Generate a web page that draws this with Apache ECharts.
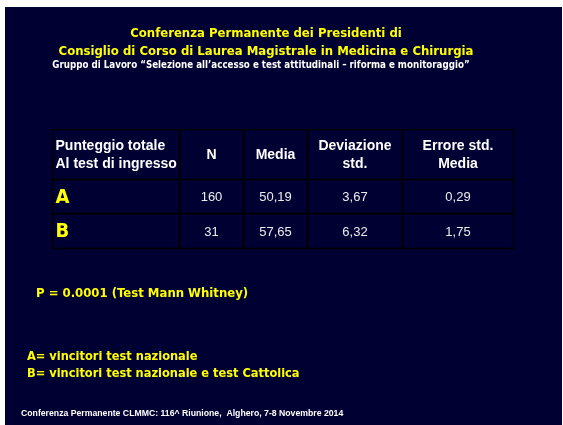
<!DOCTYPE html>
<html>
<head>
<meta charset="utf-8">
<script src="https://cdn.jsdelivr.net/npm/echarts@6/dist/echarts.min.js"></script>
<style>
  html, body { margin: 0; padding: 0; background: #fff; }
  #main { width: 563px; height: 425px; }
</style>
</head>
<body>
<div id="main"></div>
<script>
// dati della tabella
var headers = ['Punteggio totale\nAl test di ingresso', 'N', 'Media', 'Deviazione\nstd.', 'Errore std.\nMedia'];
var groups = ['A', 'B'];
var nValues = [160, 31];
var means = [50.19, 57.65];
var sdValues = [3.67, 6.32];
var seValues = [0.29, 1.75];

// layout colonne / righe (px dentro la griglia)
var colEdges = [0, 127, 191, 255, 350, 461];
var rowEdges = [0, 50, 84, 119];

function virgola(v) {
  return v.toFixed(2).replace('.', ',');
}

var cells = [];
headers.forEach(function (h, c) {
  cells.push({ value: [c, 0], text: h, kind: 'head' });
});
groups.forEach(function (g, i) {
  var r = i + 1;
  cells.push({ value: [0, r], text: g, kind: 'group' });
  cells.push({ value: [1, r], text: String(nValues[i]), kind: 'num' });
  cells.push({ value: [2, r], text: virgola(means[i]), kind: 'num' });
  cells.push({ value: [3, r], text: virgola(sdValues[i]), kind: 'num' });
  cells.push({ value: [4, r], text: virgola(seValues[i]), kind: 'num' });
});

var chart = echarts.init(document.getElementById('main'));

var option = {
  backgroundColor: '#ffffff',
  animation: false,
  graphic: [{
    type: 'rect',
    shape: { x: 5, y: 7, width: 557, height: 418 },
    style: { fill: '#000033' },
    z: -10
  }],
  title: [{
    text: 'Conferenza Permanente dei Presidenti di',
    left: 261, top: 22, textAlign: 'center',
    textStyle: { color: '#ffff00', fontFamily: 'DejaVu Sans Condensed', fontWeight: 'bold', fontSize: 13 }
  }, {
    text: 'Consiglio di Corso di Laurea Magistrale in Medicina e Chirurgia',
    left: 261, top: 40, textAlign: 'center',
    textStyle: { color: '#ffff00', fontFamily: 'DejaVu Sans Condensed', fontWeight: 'bold', fontSize: 13 }
  }, {
    text: 'Gruppo di Lavoro \u201cSelezione all\u2019accesso e test attitudinali \u2013 riforma e monitoraggio\u201d',
    left: 256, top: 55, textAlign: 'center',
    textStyle: { color: '#ffffff', fontFamily: 'DejaVu Sans Condensed', fontWeight: 'bold', fontSize: 9.7 }
  }, {
    text: 'P = 0.0001 (Test Mann Whitney)',
    left: 31, top: 282,
    textStyle: { color: '#ffff00', fontFamily: 'DejaVu Sans Condensed', fontWeight: 'bold', fontSize: 13 }
  }, {
    text: 'A= vincitori test nazionale\nB= vincitori test nazionale e test Cattolica',
    left: 22, top: 343,
    textStyle: { color: '#ffff00', fontFamily: 'DejaVu Sans Condensed', fontWeight: 'bold', fontSize: 12.7, lineHeight: 17 }
  }, {
    text: 'Conferenza Permanente CLMMC: 116^ Riunione,  Alghero, 7-8 Novembre 2014',
    left: 16, top: 404,
    textStyle: { color: '#ffffff', fontFamily: 'Liberation Sans', fontWeight: 'bold', fontSize: 8.7 }
  }],
  grid: { left: 52, top: 129, width: 461, height: 119 },
  xAxis: { type: 'value', min: 0, max: 461, show: false },
  yAxis: { type: 'value', min: 0, max: 119, inverse: true, show: false },
  series: [{
    type: 'custom',
    data: cells,
    renderItem: function (params, api) {
      var c = api.value(0), r = api.value(1);
      var p0 = api.coord([colEdges[c], rowEdges[r]]);
      var p1 = api.coord([colEdges[c + 1], rowEdges[r + 1]]);
      var cell = cells[params.dataIndex];
      var x0 = Math.round(p0[0]) + 0.5, y0 = Math.round(p0[1]) + 0.5;
      var w = Math.round(p1[0] - p0[0]), h = Math.round(p1[1] - p0[1]);
      var txt;
      if (cell.kind === 'group') {
        txt = { text: cell.text, x: x0 + 3, y: y0 + h / 2 + 1, align: 'left', verticalAlign: 'middle',
          fill: '#ffff00', fontFamily: 'DejaVu Sans Condensed', fontWeight: 'bold', fontSize: 20 };
      } else if (cell.kind === 'head') {
        var first = c === 0;
        txt = { text: cell.text, x: first ? x0 + 3 : x0 + w / 2, y: y0 + h / 2 + 1,
          align: first ? 'left' : 'center', verticalAlign: 'middle', lineHeight: 18,
          fill: '#ffffff', fontFamily: 'Liberation Sans', fontWeight: 'bold', fontSize: 14 };
      } else {
        txt = { text: cell.text, x: x0 + w / 2, y: y0 + h / 2 + 1, align: 'center', verticalAlign: 'middle',
          fill: '#ececec', fontFamily: 'Liberation Sans', fontSize: 13 };
      }
      return {
        type: 'group',
        children: [{
          type: 'rect',
          shape: { x: x0, y: y0, width: w, height: h },
          style: { fill: 'transparent', stroke: '#000000', lineWidth: 1.5 }
        }, {
          type: 'text',
          style: txt
        }]
      };
    }
  }]
};

chart.setOption(option);
</script>
</body>
</html>
